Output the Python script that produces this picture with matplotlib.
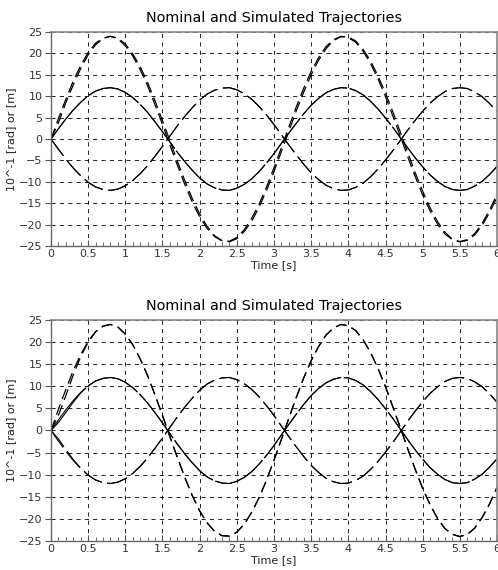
from __future__ import annotations

import matplotlib

matplotlib.use("Agg")
import matplotlib.pyplot as plt
from matplotlib.ticker import MultipleLocator

plt.rcParams["font.family"] = "DejaVu Sans"
plt.rcParams["lines.scale_dashes"] = False

# time grid [s]
TIME = [
    0.0, 0.1, 0.2, 0.3, 0.4, 0.5, 0.6, 0.7, 0.8, 0.9,
    1.0, 1.1, 1.2, 1.3, 1.4, 1.5, 1.6, 1.7, 1.8, 1.9,
    2.0, 2.1, 2.2, 2.3, 2.4, 2.5, 2.6, 2.7, 2.8, 2.9,
    3.0, 3.1, 3.2, 3.3, 3.4, 3.5, 3.6, 3.7, 3.8, 3.9,
    4.0, 4.1, 4.2, 4.3, 4.4, 4.5, 4.6, 4.7, 4.8, 4.9,
    5.0, 5.1, 5.2, 5.3, 5.4, 5.5, 5.6, 5.7, 5.8, 5.9,
    6.0,
]

# nominal trajectories (10^-1 rad or m)
NOM_A = [
    0.0, 2.4, 4.7, 6.8, 8.6, 10.1, 11.2, 11.8, 12.0, 11.7,
    10.9, 9.7, 8.1, 6.2, 4.0, 1.7, -0.7, -3.1, -5.3, -7.3,
    -9.1, -10.5, -11.4, -11.9, -12.0, -11.5, -10.6, -9.3, -7.6, -5.6,
    -3.4, -1.0, 1.4, 3.7, 5.9, 7.9, 9.5, 10.8, 11.6, 12.0,
    11.9, 11.3, 10.3, 8.8, 7.0, 4.9, 2.7, 0.3, -2.1, -4.4,
    -6.5, -8.4, -9.9, -11.1, -11.8, -12.0, -11.8, -11.0, -9.9, -8.3,
    -6.4,
]
NOM_B = [
    0.0, -2.4, -4.7, -6.8, -8.6, -10.1, -11.2, -11.8, -12.0, -11.7,
    -10.9, -9.7, -8.1, -6.2, -4.0, -1.7, 0.7, 3.1, 5.3, 7.3,
    9.1, 10.5, 11.4, 11.9, 12.0, 11.5, 10.6, 9.3, 7.6, 5.6,
    3.4, 1.0, -1.4, -3.7, -5.9, -7.9, -9.5, -10.8, -11.6, -12.0,
    -11.9, -11.3, -10.3, -8.8, -7.0, -4.9, -2.7, -0.3, 2.1, 4.4,
    6.5, 8.4, 9.9, 11.1, 11.8, 12.0, 11.8, 11.0, 9.9, 8.3,
    6.4,
]
NOM_C = [
    0.0, 4.8, 9.3, 13.6, 17.2, 20.2, 22.4, 23.6, 24.0, 23.4,
    21.8, 19.4, 16.2, 12.4, 8.0, 3.4, -1.4, -6.1, -10.6, -14.7,
    -18.2, -20.9, -22.8, -23.8, -23.9, -23.0, -21.2, -18.5, -15.2, -11.2,
    -6.7, -2.0, 2.8, 7.5, 11.9, 15.8, 19.0, 21.6, 23.2, 24.0,
    23.7, 22.6, 20.5, 17.6, 14.0, 9.9, 5.3, 0.6, -4.2, -8.8,
    -13.1, -16.8, -19.9, -22.2, -23.5, -24.0, -23.5, -22.1, -19.7, -16.6,
    -12.9,
]

# simulated trajectories, upper plot
SIM_TOP_A = NOM_A
SIM_TOP_B = NOM_B
SIM_TOP_C = [
    0.0, 3.8, 8.5, 12.7, 16.5, 19.7, 22.0, 23.5, 24.0, 23.6,
    22.2, 19.9, 16.9, 13.2, 8.9, 4.3, -0.4, -5.2, -9.7, -13.9,
    -17.5, -20.4, -22.6, -23.7, -24.0, -23.3, -21.6, -19.2, -15.9, -12.0,
    -7.6, -2.9, 1.8, 6.6, 11.0, 15.0, 18.4, 21.1, 23.0, 23.9,
    23.9, 22.9, 20.9, 18.2, 14.7, 10.7, 6.3, 1.6, -3.2, -7.9,
    -12.2, -16.1, -19.3, -21.8, -23.4, -24.0, -23.7, -22.4, -20.2, -17.2,
    -13.6,
]

# simulated trajectories, lower plot (start-up transient near t = 0)
SIM_BOT_A = [
    0.0, 1.8, 4.1, 6.4, 8.5, 10.1, 11.2, 11.8, 12.0, 11.7,
    10.9, 9.7, 8.1, 6.2, 4.0, 1.7, -0.7, -3.1, -5.3, -7.3,
    -9.1, -10.5, -11.4, -11.9, -12.0, -11.5, -10.6, -9.3, -7.6, -5.6,
    -3.4, -1.0, 1.4, 3.7, 5.9, 7.9, 9.5, 10.8, 11.6, 12.0,
    11.9, 11.3, 10.3, 8.8, 7.0, 4.9, 2.7, 0.3, -2.1, -4.4,
    -6.5, -8.4, -9.9, -11.1, -11.8, -12.0, -11.8, -11.0, -9.9, -8.3,
    -6.4,
]
SIM_BOT_B = [
    0.0, -1.9, -4.3, -6.6, -8.5, -10.1, -11.2, -11.8, -12.0, -11.7,
    -10.9, -9.7, -8.1, -6.2, -4.0, -1.7, 0.7, 3.1, 5.3, 7.3,
    9.1, 10.5, 11.4, 11.9, 12.0, 11.5, 10.6, 9.3, 7.6, 5.6,
    3.4, 1.0, -1.4, -3.7, -5.9, -7.9, -9.5, -10.8, -11.6, -12.0,
    -11.9, -11.3, -10.3, -8.8, -7.0, -4.9, -2.7, -0.3, 2.1, 4.4,
    6.5, 8.4, 9.9, 11.1, 11.8, 12.0, 11.8, 11.0, 9.9, 8.3,
    6.4,
]
SIM_BOT_C = [
    0.0, 3.4, 7.9, 12.6, 16.7, 20.0, 22.3, 23.6, 24.0, 23.4,
    21.8, 19.4, 16.2, 12.4, 8.0, 3.4, -1.4, -6.1, -10.6, -14.7,
    -18.2, -20.9, -22.8, -23.8, -23.9, -23.0, -21.2, -18.5, -15.2, -11.2,
    -6.7, -2.0, 2.8, 7.5, 11.9, 15.8, 19.0, 21.6, 23.2, 24.0,
    23.7, 22.6, 20.5, 17.6, 14.0, 9.9, 5.3, 0.6, -4.2, -8.8,
    -13.1, -16.8, -19.9, -22.2, -23.5, -24.0, -23.5, -22.1, -19.7, -16.6,
    -12.9,
]

TITLE = "Nominal and Simulated Trajectories"
YLABEL = "10^-1 [rad] or [m]"
XLABEL = "Time [s]"


def style_axes(ax) -> None:
    ax.set_xlim(0, 6)
    ax.set_ylim(-25, 25)
    ax.xaxis.set_minor_locator(MultipleLocator(0.1))
    ax.yaxis.set_major_locator(MultipleLocator(5))
    ax.set_xticks([0, 0.5, 1, 1.5, 2, 2.5, 3, 3.5, 4, 4.5, 5, 5.5, 6])
    ax.set_xticklabels(["0", "0.5", "1", "1.5", "2", "2.5", "3", "3.5",
                        "4", "4.5", "5", "5.5", "6"])
    ax.grid(True, which="major", color="black", linestyle=(0, (3, 3)), linewidth=0.6)
    ax.tick_params(axis="x", which="major", direction="in", length=4,
                   labelsize=8, colors="#555555", labelcolor="#333333", pad=2)
    ax.tick_params(axis="x", which="minor", direction="in", length=3, colors="#555555")
    ax.tick_params(axis="y", which="major", direction="out", length=4,
                   labelsize=8, colors="#555555", labelcolor="#333333", pad=2)
    for side in ("top", "right"):
        ax.spines[side].set_color("#888888")
        ax.spines[side].set_linewidth(1.2)
    for side in ("left", "bottom"):
        ax.spines[side].set_color("#666666")
        ax.spines[side].set_linewidth(1.0)
    ax.set_title(TITLE, fontsize=10.4, pad=7)
    ax.set_ylabel(YLABEL, fontsize=8, color="#222222", labelpad=2)
    ax.set_xlabel(XLABEL, fontsize=8, color="#222222", labelpad=1)


def draw_panel(ax, sims) -> None:
    sim_a, sim_b, sim_c = sims
    # nominal and simulated share a dash pattern, so the gaps stay visible
    ax.plot(TIME, NOM_A, color="black", linewidth=0.8, linestyle=(0, (40, 2)))
    ax.plot(TIME, sim_a, color="black", linewidth=0.8, linestyle=(0, (40, 2)))
    ax.plot(TIME, NOM_B, color="black", linewidth=0.8, linestyle=(0, (15, 4)))
    ax.plot(TIME, sim_b, color="black", linewidth=0.8, linestyle=(0, (15, 4)))
    ax.plot(TIME, NOM_C, color="black", linewidth=0.9, linestyle=(0, (8, 4)))
    ax.plot(TIME, sim_c, color="black", linewidth=0.9, linestyle=(0, (8, 4)))
    style_axes(ax)


def main() -> None:
    fig = plt.figure(figsize=(4.98, 5.70), dpi=100)
    ax_top = fig.add_axes([0.1024, 0.5684, 0.8956, 0.3754])
    ax_bot = fig.add_axes([0.1024, 0.0509, 0.8956, 0.3877])
    draw_panel(ax_top, (SIM_TOP_A, SIM_TOP_B, SIM_TOP_C))
    draw_panel(ax_bot, (SIM_BOT_A, SIM_BOT_B, SIM_BOT_C))
    fig.savefig("out.png", dpi=100)
    plt.close(fig)


if __name__ == "__main__":
    main()
